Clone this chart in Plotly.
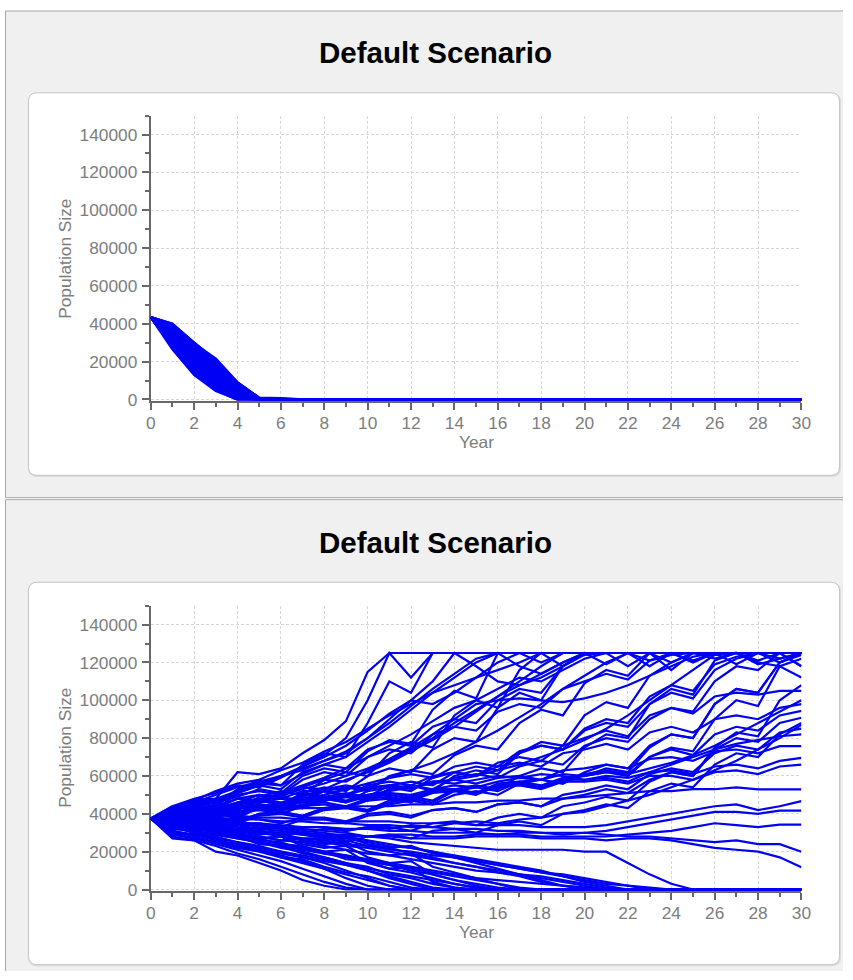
import plotly.graph_objects as go

# ---------------- data ----------------
years = list(range(31))
x_tick_step = 2
y_tick_step = 20000
panel_title = "Default Scenario"
x_title = "Year"
y_title = "Population Size"

# Top panel: every run declines to extinction by year 5-7 (population size)
top_runs = [
    [43500, 40000, 29500, 21500, 9000, 900, 600, 0, 0, 0,  0, 0, 0, 0, 0, 0, 0, 0, 0, 0,  0, 0, 0, 0, 0, 0, 0, 0, 0, 0, 0],
    [43500, 38500, 29000, 20000, 8000, 600, 0, 0, 0, 0,  0, 0, 0, 0, 0, 0, 0, 0, 0, 0,  0, 0, 0, 0, 0, 0, 0, 0, 0, 0, 0],
    [43500, 37000, 27500, 18000, 6500, 0, 0, 0, 0, 0,  0, 0, 0, 0, 0, 0, 0, 0, 0, 0,  0, 0, 0, 0, 0, 0, 0, 0, 0, 0, 0],
    [43500, 36000, 26000, 17000, 5000, 0, 0, 0, 0, 0,  0, 0, 0, 0, 0, 0, 0, 0, 0, 0,  0, 0, 0, 0, 0, 0, 0, 0, 0, 0, 0],
    [43500, 35000, 25000, 15500, 4000, 0, 0, 0, 0, 0,  0, 0, 0, 0, 0, 0, 0, 0, 0, 0,  0, 0, 0, 0, 0, 0, 0, 0, 0, 0, 0],
    [43500, 34000, 24000, 14000, 3000, 0, 0, 0, 0, 0,  0, 0, 0, 0, 0, 0, 0, 0, 0, 0,  0, 0, 0, 0, 0, 0, 0, 0, 0, 0, 0],
    [43500, 33500, 23000, 13000, 2500, 0, 0, 0, 0, 0,  0, 0, 0, 0, 0, 0, 0, 0, 0, 0,  0, 0, 0, 0, 0, 0, 0, 0, 0, 0, 0],
    [43500, 33000, 22000, 12000, 2000, 0, 0, 0, 0, 0,  0, 0, 0, 0, 0, 0, 0, 0, 0, 0,  0, 0, 0, 0, 0, 0, 0, 0, 0, 0, 0],
    [43500, 32000, 21000, 11000, 1500, 0, 0, 0, 0, 0,  0, 0, 0, 0, 0, 0, 0, 0, 0, 0,  0, 0, 0, 0, 0, 0, 0, 0, 0, 0, 0],
    [43500, 31500, 20000, 10000, 1000, 0, 0, 0, 0, 0,  0, 0, 0, 0, 0, 0, 0, 0, 0, 0,  0, 0, 0, 0, 0, 0, 0, 0, 0, 0, 0],
    [43500, 31000, 19000, 9000, 800, 0, 0, 0, 0, 0,  0, 0, 0, 0, 0, 0, 0, 0, 0, 0,  0, 0, 0, 0, 0, 0, 0, 0, 0, 0, 0],
    [43500, 30500, 18000, 8000, 500, 0, 0, 0, 0, 0,  0, 0, 0, 0, 0, 0, 0, 0, 0, 0,  0, 0, 0, 0, 0, 0, 0, 0, 0, 0, 0],
    [43500, 30000, 17000, 7000, 300, 0, 0, 0, 0, 0,  0, 0, 0, 0, 0, 0, 0, 0, 0, 0,  0, 0, 0, 0, 0, 0, 0, 0, 0, 0, 0],
    [43500, 29500, 16500, 6000, 0, 0, 0, 0, 0, 0,  0, 0, 0, 0, 0, 0, 0, 0, 0, 0,  0, 0, 0, 0, 0, 0, 0, 0, 0, 0, 0],
    [43500, 28000, 15000, 5500, 0, 0, 0, 0, 0, 0,  0, 0, 0, 0, 0, 0, 0, 0, 0, 0,  0, 0, 0, 0, 0, 0, 0, 0, 0, 0, 0],
    [43500, 26500, 13000, 4500, 0, 0, 0, 0, 0, 0,  0, 0, 0, 0, 0, 0, 0, 0, 0, 0,  0, 0, 0, 0, 0, 0, 0, 0, 0, 0, 0],
    [43500, 39000, 28000, 19000, 7000, 0, 0, 0, 0, 0,  0, 0, 0, 0, 0, 0, 0, 0, 0, 0,  0, 0, 0, 0, 0, 0, 0, 0, 0, 0, 0],
    [43500, 37500, 29500, 19000, 9000, 700, 0, 0, 0, 0,  0, 0, 0, 0, 0, 0, 0, 0, 0, 0,  0, 0, 0, 0, 0, 0, 0, 0, 0, 0, 0],
    [43500, 35500, 27000, 19500, 7500, 300, 0, 0, 0, 0,  0, 0, 0, 0, 0, 0, 0, 0, 0, 0,  0, 0, 0, 0, 0, 0, 0, 0, 0, 0, 0],
    [43500, 32500, 24500, 16000, 5500, 0, 0, 0, 0, 0,  0, 0, 0, 0, 0, 0, 0, 0, 0, 0,  0, 0, 0, 0, 0, 0, 0, 0, 0, 0, 0],
    [43500, 39500, 30000, 20500, 8500, 400, 0, 0, 0, 0,  0, 0, 0, 0, 0, 0, 0, 0, 0, 0,  0, 0, 0, 0, 0, 0, 0, 0, 0, 0, 0],
    [43500, 38000, 28500, 18500, 7000, 0, 0, 0, 0, 0,  0, 0, 0, 0, 0, 0, 0, 0, 0, 0,  0, 0, 0, 0, 0, 0, 0, 0, 0, 0, 0],
    [43500, 36500, 26500, 16500, 6000, 0, 0, 0, 0, 0,  0, 0, 0, 0, 0, 0, 0, 0, 0, 0,  0, 0, 0, 0, 0, 0, 0, 0, 0, 0, 0],
    [43500, 34500, 24500, 14500, 4500, 0, 0, 0, 0, 0,  0, 0, 0, 0, 0, 0, 0, 0, 0, 0,  0, 0, 0, 0, 0, 0, 0, 0, 0, 0, 0],
    [43500, 33000, 21500, 11500, 3500, 0, 0, 0, 0, 0,  0, 0, 0, 0, 0, 0, 0, 0, 0, 0,  0, 0, 0, 0, 0, 0, 0, 0, 0, 0, 0],
    [43500, 31000, 18500, 8500, 2000, 0, 0, 0, 0, 0,  0, 0, 0, 0, 0, 0, 0, 0, 0, 0,  0, 0, 0, 0, 0, 0, 0, 0, 0, 0, 0],
    [43500, 29500, 17500, 7500, 1000, 0, 0, 0, 0, 0,  0, 0, 0, 0, 0, 0, 0, 0, 0, 0,  0, 0, 0, 0, 0, 0, 0, 0, 0, 0, 0],
    [43500, 27500, 14000, 5000, 0, 0, 0, 0, 0, 0,  0, 0, 0, 0, 0, 0, 0, 0, 0, 0,  0, 0, 0, 0, 0, 0, 0, 0, 0, 0, 0],
    [43500, 40000, 30000, 20500, 8800, 800, 400, 0, 0, 0,  0, 0, 0, 0, 0, 0, 0, 0, 0, 0,  0, 0, 0, 0, 0, 0, 0, 0, 0, 0, 0],
    [43500, 36500, 25500, 17500, 8000, 0, 0, 0, 0, 0,  0, 0, 0, 0, 0, 0, 0, 0, 0, 0,  0, 0, 0, 0, 0, 0, 0, 0, 0, 0, 0],
]

# Bottom panel: runs in thousands of individuals (years 0..30)
bottom_extinct_k = [
    [37.5, 27, 26, 20, 18, 14, 10, 5, 2, 0,  0, 0, 0, 0, 0, 0, 0, 0, 0, 0,  0, 0, 0, 0, 0, 0, 0, 0, 0, 0, 0],
    [37.5, 28, 26, 23, 19, 16, 12, 8, 4, 1,  0, 0, 0, 0, 0, 0, 0, 0, 0, 0,  0, 0, 0, 0, 0, 0, 0, 0, 0, 0, 0],
    [37.5, 30, 27, 24, 21, 18, 15, 11, 7, 3,  0, 0, 0, 0, 0, 0, 0, 0, 0, 0,  0, 0, 0, 0, 0, 0, 0, 0, 0, 0, 0],
    [37.5, 31, 29, 26, 24, 21, 18, 15, 11, 6,  2, 0, 0, 0, 0, 0, 0, 0, 0, 0,  0, 0, 0, 0, 0, 0, 0, 0, 0, 0, 0],
    [37.5, 33, 30, 28, 25, 23, 20, 17, 14, 10,  6, 2, 0, 0, 0, 0, 0, 0, 0, 0,  0, 0, 0, 0, 0, 0, 0, 0, 0, 0, 0],
    [37.5, 32, 31, 29, 27, 25, 22, 20, 17, 14,  10, 6, 3, 0, 0, 0, 0, 0, 0, 0,  0, 0, 0, 0, 0, 0, 0, 0, 0, 0, 0],
    [37.5, 35, 33, 34, 29, 27, 28, 23, 20, 21,  14, 11, 12, 4, 1, 0, 0, 0, 0, 0,  0, 0, 0, 0, 0, 0, 0, 0, 0, 0, 0],
    [37.5, 34, 32, 33, 28, 27, 28, 24, 22, 23,  17, 14, 15, 8, 5, 2, 0, 0, 0, 0,  0, 0, 0, 0, 0, 0, 0, 0, 0, 0, 0],
    [37.5, 36, 34, 35, 31, 29, 30, 26, 24, 25,  20, 18, 19, 12, 9, 6, 3, 0, 0, 0,  0, 0, 0, 0, 0, 0, 0, 0, 0, 0, 0],
    [37.5, 33, 30, 27, 25, 22, 20, 18, 16, 13,  10, 7, 4, 1, 0, 0, 0, 0, 0, 0,  0, 0, 0, 0, 0, 0, 0, 0, 0, 0, 0],
    [37.5, 38, 36, 35, 34, 32, 31, 29, 28, 27,  25, 23, 22, 20, 18, 16, 14, 12, 10, 7,  4, 2, 0, 0, 0, 0, 0, 0, 0, 0, 0],
    [37.5, 36, 35, 36, 33, 32, 33, 29, 27, 28,  24, 22, 23, 19, 17, 15, 13, 11, 9, 8,  6, 4, 2, 0, 0, 0, 0, 0, 0, 0, 0],
    [37.5, 39, 38, 36, 35, 34, 33, 32, 31, 30,  28, 27, 25, 24, 23, 22, 21, 21, 21, 21,  20, 20, 14, 8, 3, 0, 0, 0, 0, 0, 0],
    [37.5, 35, 33, 31, 30, 28, 26, 25, 23, 21,  19, 18, 16, 14, 12, 10, 9, 8, 7, 5,  3, 1, 0, 0, 0, 0, 0, 0, 0, 0, 0],
    [37.5, 37, 35, 33, 31, 30, 28, 26, 25, 23,  22, 20, 18, 16, 14, 12, 10, 8, 6, 4,  2, 0, 0, 0, 0, 0, 0, 0, 0, 0, 0],
    [37.5, 34, 31, 29, 27, 25, 23, 21, 19, 17,  15, 13, 11, 9, 7, 5, 3, 1, 0, 0,  0, 0, 0, 0, 0, 0, 0, 0, 0, 0, 0],
    [37.5, 29, 27, 25, 22, 20, 17, 14, 11, 8,  5, 2, 0, 0, 0, 0, 0, 0, 0, 0,  0, 0, 0, 0, 0, 0, 0, 0, 0, 0, 0],
    [37.5, 40, 39, 37, 36, 34, 33, 31, 30, 28,  26, 24, 22, 20, 17, 14, 11, 8, 5, 2,  0, 0, 0, 0, 0, 0, 0, 0, 0, 0, 0],
    [37.5, 36, 33, 30, 28, 26, 24, 22, 20, 18,  16, 14, 12, 10, 8, 6, 5, 4, 3, 2,  1, 0, 0, 0, 0, 0, 0, 0, 0, 0, 0],
    [37.5, 31, 28, 25, 23, 21, 19, 17, 15, 13,  11, 9, 7, 5, 3, 1, 0, 0, 0, 0,  0, 0, 0, 0, 0, 0, 0, 0, 0, 0, 0],
    [37.5, 30, 29, 27, 22, 21, 17, 16, 12, 9,  7, 4, 1, 0, 0, 0, 0, 0, 0, 0,  0, 0, 0, 0, 0, 0, 0, 0, 0, 0, 0],
    [37.5, 34, 35, 31, 30, 26, 25, 21, 20, 16,  15, 11, 9, 6, 3, 1, 0, 0, 0, 0,  0, 0, 0, 0, 0, 0, 0, 0, 0, 0, 0],
    [37.5, 36, 32, 32, 28, 27, 24, 23, 19, 18,  15, 13, 10, 8, 5, 3, 1, 0, 0, 0,  0, 0, 0, 0, 0, 0, 0, 0, 0, 0, 0],
    [37.5, 39, 37, 38, 35, 33, 32, 30, 27, 26,  23, 22, 19, 17, 14, 12, 9, 7, 4, 2,  1, 0, 0, 0, 0, 0, 0, 0, 0, 0, 0],
    [37.5, 32, 33, 30, 28, 24, 23, 19, 17, 14,  12, 8, 6, 3, 1, 0, 0, 0, 0, 0,  0, 0, 0, 0, 0, 0, 0, 0, 0, 0, 0],
    [37.5, 35, 34, 35, 32, 31, 29, 27, 26, 24,  23, 21, 20, 18, 17, 15, 13, 11, 9, 7,  5, 3, 2, 1, 0, 0, 0, 0, 0, 0, 0],
]

bottom_mid_k = [
    [37.5, 36, 34, 33, 32, 31, 30, 30, 29, 29,  28, 28, 27, 27, 27, 28, 28, 28, 27, 27,  27, 26, 27, 27, 26, 24, 22, 21, 20, 17, 11.7],
    [37.5, 35, 33, 32, 31, 30, 30, 29, 29, 28,  28, 29, 29, 28, 28, 29, 29, 30, 30, 29,  30, 29, 28, 28, 27, 26, 25, 26, 24, 24, 20],
    [37.5, 38, 37, 36, 35, 35, 34, 33, 33, 32,  32, 31, 31, 30, 30, 30, 29, 29, 28, 28,  28, 28, 29, 30, 31, 33, 35, 34, 33, 34.3, 34.3],
    [37.5, 37, 38, 38, 37, 37, 36, 36, 35, 35,  34, 34, 33, 33, 32, 32, 31, 31, 30, 30,  30, 31, 33, 35, 37, 39, 41, 41, 40, 41.7, 41.7],
    [37.5, 39, 40, 39, 39, 38, 38, 37, 37, 36,  36, 36, 35, 35, 35, 34, 34, 34, 33, 33,  33, 34, 36, 38, 40, 42, 44, 45, 42, 44, 46.7],
    [37.5, 38, 40, 41, 41, 42, 42, 43, 43, 44,  44, 44, 45, 45, 46, 46, 47, 47, 48, 48,  49, 50, 51, 52, 52, 53, 53, 54, 52.9, 52.9, 52.9],
    [37.5, 40, 42, 40, 44, 45, 43, 47, 48, 46,  49, 50, 48, 52, 53, 51, 54, 55, 53, 57,  57, 58, 56, 60, 60, 58, 62, 63, 61, 65, 66],
    [37.5, 41, 43, 41, 46, 47, 45, 48, 49, 47,  50, 51, 49, 53, 53, 51, 55, 56, 54, 58,  58, 59, 57, 62, 63, 61, 65, 66, 64, 68, 69.6],
    [37.5, 42, 45, 43, 48, 50, 48, 52, 52, 50,  54, 55, 53, 57, 58, 56, 59, 60, 58, 63,  64, 66, 64, 69, 70, 68, 73, 74, 72, 75.8, 75.8],
    [37.5, 37, 36, 34, 35, 35, 33, 37, 37, 35,  39, 40, 38, 42, 43, 41, 45, 46, 44, 48,  50, 53, 51, 58, 62, 60, 74, 80, 78, 88, 90.8],
    [37.5, 39, 40, 38, 41, 42, 40, 44, 45, 43,  47, 48, 46, 52, 53, 51, 56, 57, 55, 59,  60, 62, 60, 70, 74, 71, 82, 86, 84, 92, 94.4],
    [37.5, 40, 42, 40, 45, 47, 45, 50, 52, 50,  55, 57, 55, 60, 62, 60, 65, 67, 65, 72,  74, 77, 74, 83, 86, 83, 90, 92, 90, 96, 98],
    [37.5, 38, 40, 38, 43, 44, 42, 47, 48, 46,  52, 54, 52, 59, 62, 60, 67, 70, 68, 76,  80, 84, 81, 92, 96, 93, 102, 104, 103, 105, 105],
    [37.5, 43, 47, 47, 50, 52, 50, 58, 62, 60,  70, 74, 72, 82, 86, 84, 94, 98, 96, 106,  110, 114, 111, 121, 124, 125, 124, 125, 120, 118, 112],
    [37.5, 38, 39, 37, 38, 37, 35, 38, 38, 36,  40, 41, 39, 42, 43, 41, 45, 46, 44, 50,  52, 55, 53, 61, 64, 62, 72, 76, 74, 83, 85],
    [37.5, 36, 35, 33, 34, 34, 32, 33, 33, 31,  33, 33, 31, 35, 36, 34, 38, 40, 38, 44,  46, 49, 47, 57, 62, 60, 75, 83, 81, 100, 108],
    [37.5, 39, 41, 39, 43, 44, 42, 45, 46, 44,  48, 49, 47, 51, 52, 50, 55, 56, 54, 58,  60, 64, 62, 75, 82, 80, 98, 106, 104, 120, 124],
    [37.5, 34, 32, 30, 29, 28, 26, 27, 27, 25,  28, 29, 27, 31, 32, 30, 34, 36, 34, 40,  42, 45, 43, 52, 56, 54, 66, 72, 70, 82, 88],
    [37.5, 41, 44, 42, 45, 47, 46, 49, 52, 50,  53, 55, 54, 57, 56, 58, 60, 59, 61, 60,  58, 60, 59, 62, 66, 70, 74, 77, 79, 81, 82],
    [37.5, 33, 31, 32, 30, 31, 29, 30, 32, 31,  33, 32, 34, 33, 35, 36, 35, 37, 38, 40,  41, 44, 47, 50, 54, 58, 63, 68, 74, 80, 87],
    [37.5, 40, 38, 41, 43, 42, 45, 44, 47, 49,  48, 51, 50, 53, 55, 54, 57, 59, 58, 61,  60, 62, 61, 64, 67, 71, 76, 82, 88, 94, 100],
]

bottom_high_k = [
    [37.5, 43, 47.5, 48, 62, 61, 64, 72, 79, 89,  115, 125, 125, 125, 125, 125, 125, 125, 125, 125,  125, 125, 125, 125, 125, 125, 125, 125, 125, 125, 125],
    [37.5, 42, 46, 44, 52, 58, 55, 66, 72, 70,  88, 110, 104, 125, 125, 125, 125, 125, 125, 125,  125, 125, 125, 125, 120, 125, 125, 125, 125, 125, 125],
    [37.5, 40, 45, 47, 51, 55, 60, 65, 71, 80,  100, 125, 112, 125, 125, 125, 125, 125, 120, 125,  125, 125, 118, 125, 125, 125, 125, 125, 125, 125, 125],
    [37.5, 41, 44, 46, 49, 53, 51, 60, 64, 62,  73, 79, 77, 95, 105, 101, 125, 125, 125, 125,  125, 125, 125, 125, 125, 125, 122, 125, 125, 125, 125],
    [37.5, 39, 41, 44, 42, 49, 52, 50, 58, 62,  60, 72, 78, 75, 92, 100, 96, 116, 125, 125,  125, 125, 125, 118, 125, 125, 125, 125, 125, 125, 125],
    [37.5, 40, 42, 40, 45, 47, 45, 51, 54, 52,  60, 64, 62, 74, 80, 78, 96, 104, 100, 118,  125, 125, 125, 121, 125, 125, 125, 125, 121, 125, 125],
    [37.5, 38, 40, 42, 40, 46, 48, 46, 52, 54,  52, 60, 63, 61, 71, 76, 74, 88, 95, 92,  109, 116, 113, 125, 125, 125, 125, 125, 125, 125, 125],
    [37.5, 37, 39, 40, 38, 43, 45, 43, 48, 50,  48, 53, 55, 52, 60, 63, 61, 72, 78, 76,  92, 99, 96, 113, 120, 125, 125, 125, 125, 125, 125],
    [37.5, 36, 37, 38, 36, 40, 41, 39, 43, 44,  42, 47, 49, 47, 53, 55, 53, 60, 64, 62,  75, 82, 80, 98, 106, 103, 121, 125, 125, 125, 125],
    [37.5, 39, 41, 43, 46, 48, 50, 53, 56, 60,  64, 69, 75, 82, 90, 98, 100, 101, 100, 99,  101, 104, 108, 113, 118, 123, 125, 125, 125, 125, 125],
    [37.5, 41, 45, 48, 52, 56, 60, 63, 68, 72,  80, 90, 100, 110, 125, 118, 110, 108, 112, 118,  125, 125, 125, 125, 125, 125, 125, 125, 125, 120, 125],
    [37.5, 38, 39, 41, 39, 44, 45, 43, 49, 51,  49, 55, 57, 55, 62, 65, 63, 72, 76, 74,  85, 90, 88, 102, 108, 105, 119, 123, 125, 125, 125],
    [37.5, 35, 36, 37, 35, 39, 40, 38, 42, 43,  41, 45, 47, 45, 50, 52, 50, 56, 58, 56,  62, 66, 64, 76, 82, 80, 98, 106, 104, 120, 125],
    [37.5, 37, 38, 38, 36, 40, 41, 39, 43, 44,  42, 46, 48, 46, 52, 54, 52, 57, 58, 56,  61, 63, 61, 70, 75, 73, 90, 100, 97, 118, 122],
    [37.5, 44, 46, 50, 54, 57, 60, 64, 68, 73,  80, 88, 97, 106, 114, 122, 125, 118, 114, 120,  125, 125, 125, 125, 125, 125, 125, 125, 125, 125, 125],
    [37.5, 42, 47, 52, 56, 58, 63, 67, 73, 78,  85, 92, 98, 104, 108, 112, 116, 120, 125, 125,  125, 125, 125, 125, 125, 120, 125, 125, 125, 125, 125],
    [37.5, 40, 44, 42, 51, 55, 53, 62, 66, 64,  74, 78, 76, 86, 90, 88, 100, 106, 104, 118,  124, 125, 125, 125, 125, 125, 125, 125, 125, 125, 125],
    [37.5, 36, 38, 40, 41, 43, 44, 46, 47, 49,  50, 52, 54, 56, 58, 60, 63, 66, 70, 74,  79, 85, 92, 100, 108, 116, 124, 125, 119, 122, 125],
    [37.5, 38, 40, 41, 39, 43, 45, 43, 48, 49,  47, 53, 55, 53, 59, 61, 59, 65, 68, 66,  76, 80, 78, 90, 96, 94, 110, 118, 116, 125, 118],
    [37.5, 39, 42, 44, 42, 47, 49, 47, 53, 55,  53, 59, 61, 59, 65, 67, 65, 73, 76, 74,  84, 88, 86, 98, 104, 101, 116, 122, 125, 125, 125],
    [37.5, 42, 47, 45, 53, 56, 55, 61, 66, 70,  78, 86, 95, 104, 112, 120, 125, 125, 125, 118,  125, 125, 125, 125, 125, 121, 125, 125, 125, 125, 125],
    [37.5, 40, 43, 42, 46, 50, 49, 54, 58, 57,  63, 68, 74, 80, 88, 95, 102, 110, 118, 125,  125, 125, 125, 125, 125, 125, 125, 119, 125, 125, 125],
    [37.5, 39, 41, 44, 43, 47, 50, 54, 53, 58,  62, 67, 73, 79, 86, 94, 102, 108, 114, 120,  125, 119, 125, 125, 125, 125, 125, 125, 125, 122, 125],
    [37.5, 44, 48, 51, 55, 54, 59, 65, 70, 76,  84, 93, 100, 98, 104, 112, 120, 125, 125, 125,  125, 125, 125, 125, 125, 125, 125, 125, 125, 125, 125],
    [37.5, 41, 40, 44, 48, 47, 51, 55, 59, 64,  70, 76, 82, 89, 96, 100, 106, 112, 110, 116,  122, 125, 125, 125, 116, 125, 125, 125, 125, 125, 125],
    [37.5, 38, 41, 40, 43, 45, 44, 48, 50, 53,  56, 59, 63, 67, 72, 78, 84, 91, 98, 106,  113, 120, 125, 125, 125, 125, 125, 125, 125, 125, 118],
]

bottom_runs_k = bottom_extinct_k + bottom_mid_k + bottom_high_k

# ---------------- geometry helpers ----------------
# Layout targets are given in the coordinates of the final 853x980 picture.
# The photographed page maps onto that picture as img = S*page + O, so the
# figure coordinates are the inverse of that mapping.
W, H = 853, 980
SX, OX = 0.9814, 6.1
SY, OY = 0.9887, 0.7


def fx(img_x):
    return (img_x - OX) / SX


def fy(img_y):
    return (img_y - OY) / SY


def px(img_x):
    return min(max(fx(img_x) / W, 0.0), 1.0)


def py(img_y):
    return min(max(1 - fy(img_y) / H, 0.0), 1.0)


def fpx(fig_x):
    return fig_x / W


def fpy(fig_y):
    return 1 - fig_y / H


IMG_PX_PER_UNIT = 1.888 / 1000.0   # picture pixels per individual
Y_MIN, Y_MAX = -600, 150000


def ydomain(zero_img):
    bottom = zero_img - Y_MIN * IMG_PX_PER_UNIT
    top = zero_img - Y_MAX * IMG_PX_PER_UNIT
    return [py(bottom), py(top)]


X0_IMG, X1_IMG = 151.7, 801.7
TOP_ZERO_IMG = 399.3
BOT_ZERO_IMG = 888.3
FS = 1 / SX   # font scale so text lands at the reference size

LINE_COLOR = "#0000f5"
AXIS_COLOR = "#686868"
LABEL_COLOR = "#7d7d7d"
GRID_COLOR = "#d6d6d6"
FONT = "Liberation Sans, Arial, sans-serif"

fig = go.Figure()

for run in top_runs:
    fig.add_trace(go.Scatter(x=years, y=run, mode="lines",
                             line=dict(color=LINE_COLOR, width=2.5),
                             xaxis="x", yaxis="y", hoverinfo="skip"))

for run in bottom_runs_k:
    fig.add_trace(go.Scatter(x=years, y=[v * 1000 for v in run], mode="lines",
                             line=dict(color=LINE_COLOR, width=2.2),
                             xaxis="x2", yaxis="y2", hoverinfo="skip"))


def xaxis_style(anchor):
    return dict(
        domain=[px(X0_IMG), px(X1_IMG)], anchor=anchor, range=[0, 30],
        tickmode="linear", tick0=0, dtick=x_tick_step, tickformat="d",
        ticks="outside", ticklen=7, tickwidth=2, tickcolor=AXIS_COLOR,
        minor=dict(ticks="outside", dtick=1, ticklen=4, tickwidth=2,
                   tickcolor=AXIS_COLOR, showgrid=False),
        showline=True, linecolor=AXIS_COLOR, linewidth=2,
        showgrid=True, gridcolor=GRID_COLOR, gridwidth=1, griddash="3px,2px",
        zeroline=False, tickfont=dict(family=FONT, size=17 * FS, color=LABEL_COLOR),
        ticklabelstandoff=-1, fixedrange=True, layer="below traces",
    )


def yaxis_style(anchor, zero_img):
    return dict(
        domain=ydomain(zero_img), anchor=anchor, range=[Y_MIN, Y_MAX],
        tickmode="linear", tick0=0, dtick=y_tick_step, tickformat="d",
        ticks="outside", ticklen=7, tickwidth=2, tickcolor=AXIS_COLOR,
        minor=dict(ticks="outside", dtick=10000, ticklen=4, tickwidth=2,
                   tickcolor=AXIS_COLOR, showgrid=False),
        showline=True, linecolor=AXIS_COLOR, linewidth=2,
        showgrid=True, gridcolor=GRID_COLOR, gridwidth=1, griddash="3px,2px",
        zeroline=False, tickfont=dict(family=FONT, size=17 * FS, color=LABEL_COLOR),
        ticklabelstandoff=1, fixedrange=True, layer="below traces",
    )


def rrect_path(x0, y0, x1, y1, r):
    # corners in figure pixels
    pts = [
        ("M", [(x0 + r, y0)]), ("L", [(x1 - r, y0)]), ("Q", [(x1, y0), (x1, y0 + r)]),
        ("L", [(x1, y1 - r)]), ("Q", [(x1, y1), (x1 - r, y1)]),
        ("L", [(x0 + r, y1)]), ("Q", [(x0, y1), (x0, y1 - r)]),
        ("L", [(x0, y0 + r)]), ("Q", [(x0, y0), (x0 + r, y0)]),
    ]
    s = ""
    for cmd, coords in pts:
        s += cmd + " " + " ".join(f"{fpx(a):.5f},{fpy(b):.5f}" for a, b in coords) + " "
    return s + "Z"


def hline(x0, x1, y, color="#a6a6a6"):
    return dict(type="line", xref="paper", yref="paper", x0=fpx(x0), x1=fpx(x1),
                y0=fpy(y), y1=fpy(y), line=dict(color=color, width=1), layer="below")


def vline(x, y0, y1, color="#a6a6a6"):
    return dict(type="line", xref="paper", yref="paper", x0=fpx(x), x1=fpx(x),
                y0=fpy(y0), y1=fpy(y1), line=dict(color=color, width=1), layer="below")


# figure-pixel positions of the frame elements
TOP_BORDER = fy(11.7)
SEP_A, SEP_B = fy(497.3), fy(499.3)
BOX_L, BOX_R = fx(29.5), W - 3.5
TOP_BOX = (fy(93.3), fy(475.0))
BOT_BOX = (fy(581.7), fy(963.3))

shapes = [
    dict(type="rect", xref="paper", yref="paper", x0=fpx(0.5), x1=1, y0=fpy(TOP_BORDER), y1=fpy(SEP_A),
         fillcolor="#f0f0f0", line=dict(width=0), layer="below"),
    dict(type="rect", xref="paper", yref="paper", x0=fpx(0.5), x1=1, y0=fpy(SEP_B), y1=0,
         fillcolor="#f0f0f0", line=dict(width=0), layer="below"),
    hline(0.5, W, TOP_BORDER), vline(0.5, TOP_BORDER, SEP_A), hline(0.5, W, SEP_A),
    hline(0.5, W, SEP_B), vline(0.5, SEP_B, H),
]
for (b_top, b_bot) in (TOP_BOX, BOT_BOX):
    shapes.append(dict(type="path", xref="paper", yref="paper",
                       path=rrect_path(BOX_L, b_top + 0.6, BOX_R + 1, b_bot + 1.2, 9),
                       fillcolor="#dcdcdc", line=dict(color="#dcdcdc", width=1), layer="below"))
    shapes.append(dict(type="path", xref="paper", yref="paper",
                       path=rrect_path(BOX_L, b_top, BOX_R, b_bot, 9),
                       fillcolor="#ffffff", line=dict(color="#c4c4c4", width=1), layer="below"))

annotations = []
for title_y, ytitle_y, xtitle_y in [(53, 259, 442), (542, 747, 931)]:
    annotations.append(dict(text=panel_title, xref="paper", yref="paper",
                            x=px(436), y=py(title_y), showarrow=False,
                            xanchor="center", yanchor="middle",
                            font=dict(family="Liberation Sans, Arial, sans-serif",
                                      size=29 * FS, color="#000000", weight="bold")))
    annotations.append(dict(text=y_title, xref="paper", yref="paper",
                            x=px(66), y=py(ytitle_y), showarrow=False, textangle=-90,
                            xanchor="center", yanchor="middle",
                            font=dict(family=FONT, size=17 * FS, color=LABEL_COLOR)))
    annotations.append(dict(text=x_title, xref="paper", yref="paper",
                            x=px(477), y=py(xtitle_y), showarrow=False,
                            xanchor="center", yanchor="middle",
                            font=dict(family=FONT, size=17 * FS, color=LABEL_COLOR)))

fig.update_layout(
    width=W, height=H, autosize=False,
    margin=dict(l=0, r=0, t=0, b=0, pad=0),
    paper_bgcolor="#ffffff", plot_bgcolor="rgba(0,0,0,0)",
    showlegend=False, hovermode=False,
    xaxis=xaxis_style("y"), yaxis=yaxis_style("x", TOP_ZERO_IMG),
    xaxis2=xaxis_style("y2"), yaxis2=yaxis_style("x2", BOT_ZERO_IMG),
    shapes=shapes, annotations=annotations,
)

fig.write_html("out.html", config={"displayModeBar": False, "staticPlot": True},
               post_script="document.body.style.margin='0';document.body.style.overflow='hidden';")
